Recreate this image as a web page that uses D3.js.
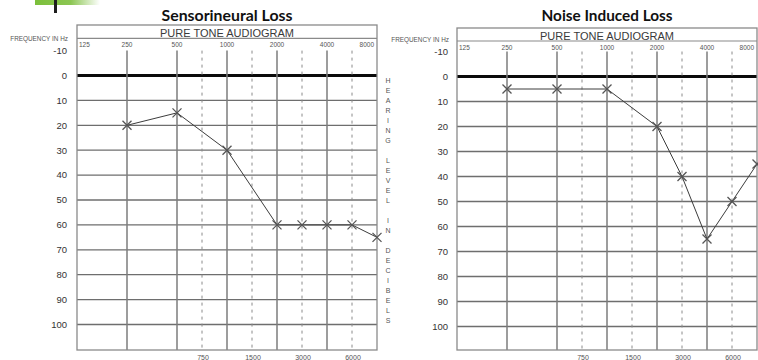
<!DOCTYPE html>
<html><head><meta charset="utf-8">
<script src="https://cdn.jsdelivr.net/npm/d3@7"></script>
<style>body{margin:0;background:#fff} svg{display:block}</style>
</head><body><svg id="c" width="758" height="360"></svg>
<script>
// ---- data ----
const mainFreqs = [125, 250, 500, 1000, 2000, 4000, 8000];
const midFreqs = [750, 1500, 3000, 6000];
const dbTicks = [-10, 0, 10, 20, 30, 40, 50, 60, 70, 80, 90, 100];
const testFreqs = [250, 500, 1000, 2000, 3000, 4000, 6000, 8000];
const sensorineural = [20, 15, 30, 60, 60, 60, 60, 65];
const noiseInduced = [5, 5, 5, 20, 40, 65, 50, 35];
const titles = ["Sensorineural Loss", "Noise Induced Loss"];
const headerText = "PURE TONE AUDIOGRAM";
const freqAxisText = "FREQUENCY IN Hz";
const levelAxisText = "HEARING LEVEL IN DECIBELS";

// ---- layout ----
const panels = [
  {series: sensorineural, title: titles[0], x0: 77, x1: 377, top: 25, div: 38.3, freqBase: 47.2, y0: 75.5, y100: 324.5, bottom: 350, labelX: 67, freqTextBase: 41.3, titleBase: 20.5},
  {series: noiseInduced, title: titles[1], x0: 457, x1: 757, top: 28, div: 41, freqBase: 50, y0: 76.5, y100: 326.5, bottom: 350, labelX: 448, freqTextBase: 42.3, titleBase: 20.5}
];

const svg = d3.select("#c");
const font = "'Liberation Sans', Arial, sans-serif";

// decoration top-left
const defs = svg.append("defs");
const g0 = defs.append("linearGradient").attr("id", "grn").attr("x1", "0").attr("x2", "1");
g0.append("stop").attr("offset", "0").attr("stop-color", "#7bbf3a");
g0.append("stop").attr("offset", "0.55").attr("stop-color", "#8cc653");
g0.append("stop").attr("offset", "1").attr("stop-color", "#ffffff");
svg.append("rect").attr("x", 35).attr("y", 0).attr("width", 65).attr("height", 5).attr("fill", "url(#grn)");
svg.append("rect").attr("x", 54).attr("y", 0).attr("width", 3).attr("height", 13).attr("fill", "#1e1e1e");

// octave position: main freqs at log2(f/125); mid freqs halfway
const octPos = f => mainFreqs.includes(f) ? Math.log2(f / 125) : Math.log2(f / 1.5 / 125) + 0.5;
const allFreqs = mainFreqs.concat(midFreqs).sort((a, b) => a - b);

panels.forEach(p => {
  const g = svg.append("g");
  const step = (p.x1 - p.x0) / octPos(8000);
  const x = d3.scaleLinear().domain(allFreqs).range(allFreqs.map(f => p.x0 + octPos(f) * step));
  const y = d3.scaleLinear().domain([0, 100]).range([p.y0, p.y100]);
  const cx = (p.x0 + p.x1) / 2;

  // title
  const t = g.append("text").attr("x", cx).attr("y", p.titleBase).attr("text-anchor", "middle")
    .attr("font-family", "Lato, 'Open Sans', sans-serif").attr("font-weight", "bold").attr("font-size", 14)
    .attr("fill", "#111").text(p.title);
  const w = t.node().getComputedTextLength();
  t.attr("font-size", 14 * 131 / w);

  // horizontal grid
  g.selectAll(".h").data(dbTicks.filter(d => d > -10)).join("line")
    .attr("x1", p.x0).attr("x2", p.x1).attr("y1", d => y(d)).attr("y2", d => y(d))
    .attr("stroke", d => d === 0 ? "#0a0a0a" : "#6e6e6e")
    .attr("stroke-width", d => d === 0 ? 3 : 1.3);

  // vertical solid lines
  g.selectAll(".v").data(mainFreqs.slice(1, -1)).join("line")
    .attr("x1", d => x(d)).attr("x2", d => x(d)).attr("y1", y(-10)).attr("y2", p.bottom)
    .attr("stroke", "#7d7d7d").attr("stroke-width", 1.5);
  // vertical dashed lines
  g.selectAll(".vd").data(midFreqs).join("line")
    .attr("x1", d => x(d)).attr("x2", d => x(d)).attr("y1", y(-10)).attr("y2", p.bottom)
    .attr("stroke", "#8a8a8a").attr("stroke-width", 1).attr("stroke-dasharray", "3,4");

  // box and header
  g.append("rect").attr("x", p.x0).attr("y", p.top).attr("width", p.x1 - p.x0).attr("height", p.bottom - p.top)
    .attr("fill", "none").attr("stroke", "#8a8a8a").attr("stroke-width", 1.3);
  g.append("line").attr("x1", p.x0).attr("x2", p.x1).attr("y1", p.div).attr("y2", p.div)
    .attr("stroke", "#8a8a8a").attr("stroke-width", 1.2);
  g.append("text").attr("x", cx).attr("y", p.div - 1.3).attr("text-anchor", "middle")
    .attr("font-family", font).attr("font-size", 11).attr("fill", "#3a3a3a").text(headerText);

  // top frequency labels
  g.selectAll(".fl").data(mainFreqs).join("text")
    .attr("x", (d, i) => i === 0 ? p.x0 + 2 : i === mainFreqs.length - 1 ? p.x1 - 3 : x(d))
    .attr("y", p.freqBase)
    .attr("text-anchor", (d, i) => i === 0 ? "start" : i === mainFreqs.length - 1 ? "end" : "middle")
    .attr("font-family", font).attr("font-size", 6.5).attr("fill", "#555").text(d => d);

  // bottom mid-frequency labels
  g.selectAll(".bl").data(midFreqs).join("text")
    .attr("x", d => x(d) + 1).attr("y", 359.8).attr("text-anchor", "middle")
    .attr("font-family", font).attr("font-size", 7).attr("fill", "#555").text(d => d);

  // y labels
  g.selectAll(".yl").data(dbTicks).join("text")
    .attr("x", p.labelX).attr("y", d => y(d)).attr("dy", "0.35em").attr("text-anchor", "end")
    .attr("font-family", font).attr("font-size", 9.5).attr("fill", "#333").text(d => d);

  // frequency axis text
  g.append("text").attr("x", p.labelX + 1).attr("y", p.freqTextBase).attr("text-anchor", "end")
    .attr("font-family", font).attr("font-size", 6.4).attr("fill", "#555").text(freqAxisText);

  // data line
  const pts = testFreqs.map((f, i) => [x(f), y(p.series[i])]);
  g.append("path").attr("d", d3.line()(pts)).attr("fill", "none").attr("stroke", "#3c3c3c").attr("stroke-width", 1);
  g.selectAll(".mk").data(pts).join("path")
    .attr("transform", d => `translate(${d[0]},${d[1]})`)
    .attr("d", "M-4.5,-4.5L4.5,4.5M-4.5,4.5L4.5,-4.5")
    .attr("fill", "none").attr("stroke", "#555").attr("stroke-width", 1.3);
});

// vertical "HEARING LEVEL IN DECIBELS"
svg.append("g").selectAll("text").data(levelAxisText.split("")).join("text")
  .attr("x", 388).attr("y", (d, i) => 80.7 + i * 10).attr("dy", "0.35em").attr("text-anchor", "middle")
  .attr("font-family", font).attr("font-size", 7).attr("fill", "#555").text(d => d === " " ? "" : d);
</script>
</body></html>
